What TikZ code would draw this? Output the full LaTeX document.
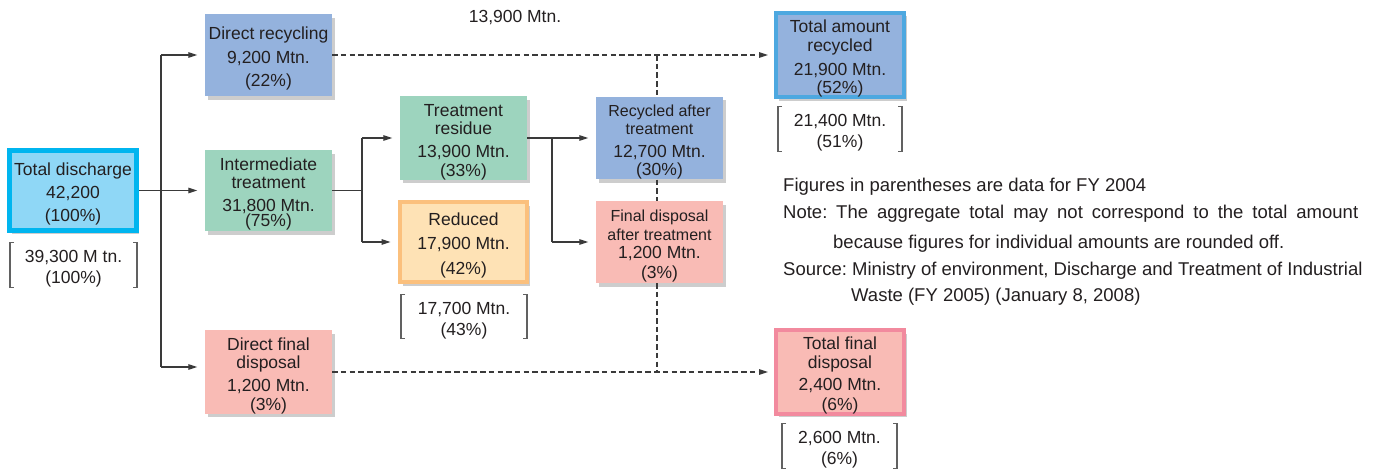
\documentclass[tikz,border=0pt]{standalone}
\usepackage{fontspec}
\setmainfont{Liberation Sans}
\usetikzlibrary{shadows,arrows.meta}
\definecolor{txt}{HTML}{231F20}
\definecolor{ln}{HTML}{3A3A3A}
\definecolor{cyanb}{HTML}{00B5EF}
\definecolor{cyanf}{HTML}{8FD7F6}
\definecolor{bluef}{HTML}{94B2DD}
\definecolor{blueb}{HTML}{4DA8E0}
\definecolor{greenf}{HTML}{9DD4BE}
\definecolor{pinkf}{HTML}{F9BBB5}
\definecolor{pinkb}{HTML}{F28A9E}
\definecolor{orgf}{HTML}{FEE2B5}
\definecolor{orgb}{HTML}{FBC07D}
\newcommand\brkt[1]{%
  \draw[brk] ([xshift=4pt]#1.north west) -- (#1.north west) -- (#1.south west) -- ([xshift=4pt]#1.south west);
  \draw[brk] ([xshift=-4pt]#1.north east) -- (#1.north east) -- (#1.south east) -- ([xshift=-4pt]#1.south east);}
\newcommand\dn{\rule{0pt}{19.8pt}}
\newcommand\sm{\fontsize{16}{18.5}\selectfont}
\begin{document}
\begin{tikzpicture}[x=1pt,y=-1pt,
  box/.style={rectangle, inner sep=0pt, align=center, text=txt,
    font=\fontsize{17.5}{18.5}\selectfont,
    drop shadow={shadow xshift=2.5pt, shadow yshift=-3.5pt, opacity=.28, fill=black!70}},
  brkn/.style={rectangle, inner sep=0pt, outer sep=0pt, align=center, text=txt,
    font=\fontsize{17.5}{18.5}\selectfont},
  brk/.style={draw=ln!80, line width=1.1pt},
  line/.style={draw=ln, line width=1.2pt},
  arr/.style={line, -{Triangle[length=9pt,width=5.5pt]}, shorten >=7.5pt},
  dsh/.style={draw=ln, line width=1.2pt, dash pattern=on 5.5pt off 3.2pt},
  darr/.style={dsh, -{Triangle[length=9pt,width=5.5pt]}, shorten >=6pt},
  note/.style={anchor=base west, inner sep=0pt, text=txt, font=\fontsize{18.5}{22}\selectfont}]
\fill[white] (0,0) rectangle (1377,469);
\useasboundingbox (0,0) rectangle (1377,469);

% boxes
\node[box, fill=cyanf, draw=cyanb, line width=5pt, minimum width=127pt, minimum height=80pt] (td) at (73,190.5)
  {\dn Total discharge\\[5pt]42,200\\[4.5pt](100\%)};
\node[box, fill=bluef, minimum width=127pt, minimum height=82pt] (dr) at (268.5,55)
  {\dn Direct recycling\\[5pt]9,200 Mtn.\\[5pt](22\%)};
\node[box, fill=greenf, minimum width=127pt, minimum height=81pt] (it) at (268.5,190.5)
  {\dn Intermediate\\treatment\\[4.5pt]31,800 Mtn.\\[-3.5pt](75\%)};
\node[box, fill=pinkf, minimum width=127pt, minimum height=82pt] (dfd) at (268.5,372)
  {\dn Direct final\\disposal\\[4.5pt]1,200 Mtn.\\(3\%)};
\node[box, fill=greenf, minimum width=127pt, minimum height=82pt] (tr) at (463.5,138)
  {\dn Treatment\\residue\\[4.5pt]13,900 Mtn.\\(33\%)};
\node[box, fill=orgf, draw=orgb, line width=4pt, minimum width=127pt, minimum height=80pt] (red) at (463.5,242)
  {\dn Reduced\\[5.5pt]17,900 Mtn.\\[6.5pt](42\%)};
\node[box, fill=bluef, minimum width=127pt, minimum height=82pt] (rat) at (659.5,138)
  {{\sm\dn Recycled after}\\{\sm treatment}\\[4pt]12,700 Mtn.\\(30\%)};
\node[box, fill=pinkf, minimum width=127pt, minimum height=82pt] (fdat) at (659.5,242)
  {{\sm\dn Final disposal}\\{\sm after treatment}\\1,200 Mtn.\\[1pt](3\%)};
\node[box, fill=bluef, draw=blueb, line width=4pt, minimum width=128pt, minimum height=82pt] (tar) at (840,55)
  {\dn Total amount\\recycled\\[5.5pt]21,900 Mtn.\\(52\%)};
\node[box, fill=pinkf, draw=pinkb, line width=4pt, minimum width=128pt, minimum height=82pt] (tfd) at (840,372)
  {\dn Total final\\disposal\\[3.5pt]2,400 Mtn.\\[1.5pt](6\%)};

% bracketed previous-year figures
\node[brkn, minimum width=127pt, minimum height=44pt] (b1) at (73.5,265) {\dn 39,300 M tn.\\[2.5pt](100\%)};
\node[brkn, minimum width=126pt, minimum height=43pt] (b2) at (464,316.5) {\dn 17,700 Mtn.\\[2.5pt](43\%)};
\node[brkn, minimum width=124pt, minimum height=44pt] (b3) at (840,129) {\dn 21,400 Mtn.\\[2.5pt](51\%)};
\node[brkn, minimum width=115pt, minimum height=42pt] (b4) at (839.5,446) {\dn 2,600 Mtn.\\[2.5pt](6\%)};
\brkt{b1}\brkt{b2}\brkt{b3}\brkt{b4}

\node[brkn] (lab) at (515,18) {13,900 Mtn.};

% solid connectors
\coordinate (t1) at (161,55);
\coordinate (t2) at (161,367);
\draw[line] (t1) -- (t2);
\draw[arr] (td.east) -- (it.west);
\draw[arr] (t1) -- (t1 -| dr.west);
\draw[arr] (t2) -- (t2 -| dfd.west);

\coordinate (u1) at (362,138);
\coordinate (u2) at (362,242);
\draw[line] (it.east) -- (it.east -| u1);
\draw[line] (u1) -- (u2);
\draw[arr] (u1) -- (u1 -| tr.west);
\draw[arr] (u2) -- (u2 -| red.west);

\coordinate (v1) at (552,138);
\coordinate (v2) at (552,242);
\draw[arr] (tr.east) -- (rat.west);
\draw[line] (v1) -- (v2);
\draw[arr] (v2) -- (v2 -| fdat.west);

% dashed connectors
\coordinate (j1) at (657,55);
\coordinate (j2) at (657,372);
\draw[darr] (dr.east) -- (tar.west);
\draw[darr] (dfd.east) -- (tfd.west);
\draw[dsh] (j1) -- (j1 |- rat.north);
\draw[dsh] (j1 |- rat.south) -- (j1 |- fdat.north);
\draw[dsh] (j1 |- fdat.south) -- (j2);

% notes
\node[note] (n1) at (783,191.5) {Figures in parentheses are data for FY 2004};
\node[note] (n2) at (783,218) {Note:};
\node[note] (n3) at (836,218) {\makebox[522pt][s]{The aggregate total may not correspond to the total amount}};
\node[note] (n4) at (833,248) {because figures for individual amounts are rounded off.};
\node[note] (n5) at (783,275) {Source:};
\node[note] (n6) at (852,275) {Ministry of environment, Discharge and Treatment of Industrial};
\node[note] (n7) at (851,301.5) {Waste (FY 2005) (January 8, 2008)};
\end{tikzpicture}
\end{document}
